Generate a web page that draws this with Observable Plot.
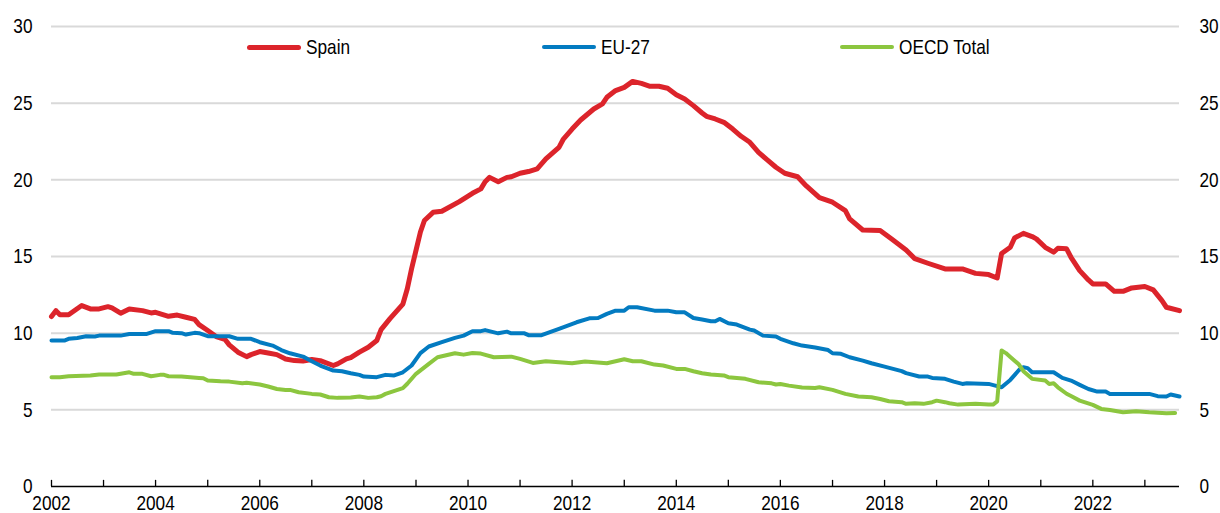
<!DOCTYPE html>
<html><head><meta charset="utf-8">
<script src="https://cdn.jsdelivr.net/npm/d3@7"></script>
<script src="https://cdn.jsdelivr.net/npm/@observablehq/plot@0.6"></script>
<style>
body{margin:0;background:#fff;}
#wrap{position:relative;width:1220px;height:513px;font-family:"Liberation Sans Narrow","Arial Narrow","Liberation Sans",Arial,sans-serif;}
.leg{position:absolute;top:36px;height:22px;line-height:22px;display:flex;align-items:center;font-size:21px;color:#000;white-space:nowrap;}
.sw{display:inline-block;width:54px;border-radius:3px;margin-right:5px;}
.lt{display:inline-block;transform:scaleX(0.82);transform-origin:0 50%;}
</style></head>
<body><div id="wrap"></div>
<script>
const seriesNames = ["Spain", "EU-27", "OECD Total"];
const seriesColors = ["#DC242B", "#037BC1", "#8CC63F"];

const spainDates = ["2002-01","2002-02","2002-03","2002-05","2002-08","2002-10","2002-12","2003-02","2003-03","2003-05","2003-07","2003-10","2003-12","2004-01","2004-04","2004-06","2004-08","2004-10","2004-11","2005-01","2005-03","2005-05","2005-06","2005-08","2005-10","2005-11","2006-01","2006-03","2006-05","2006-07","2006-09","2006-11","2007-01","2007-03","2007-06","2007-07","2007-09","2007-10","2007-12","2008-02","2008-04","2008-05","2008-07","2008-10","2008-11","2008-12","2009-01","2009-02","2009-03","2009-05","2009-07","2009-11","2010-02","2010-04","2010-05","2010-06","2010-08","2010-10","2010-11","2011-01","2011-03","2011-05","2011-07","2011-10","2011-11","2012-01","2012-03","2012-06","2012-08","2012-09","2012-11","2013-01","2013-03","2013-05","2013-07","2013-09","2013-11","2014-01","2014-03","2014-05","2014-07","2014-08","2014-10","2014-12","2015-02","2015-04","2015-06","2015-08","2015-10","2015-12","2016-02","2016-05","2016-07","2016-10","2017-01","2017-04","2017-05","2017-08","2017-12","2018-03","2018-06","2018-08","2018-11","2019-03","2019-07","2019-10","2020-01","2020-03","2020-04","2020-06","2020-07","2020-09","2020-11","2020-12","2021-02","2021-04","2021-05","2021-07","2021-08","2021-10","2021-12","2022-01","2022-04","2022-06","2022-08","2022-10","2023-01","2023-03","2023-05","2023-06","2023-09"];
const spainValues = [11.08,11.47,11.2,11.2,11.8,11.58,11.58,11.73,11.65,11.3,11.58,11.47,11.32,11.36,11.1,11.18,11.04,10.9,10.56,10.17,9.78,9.6,9.24,8.76,8.47,8.6,8.8,8.71,8.6,8.32,8.21,8.19,8.28,8.21,7.89,8.0,8.32,8.4,8.76,9.08,9.52,10.23,10.93,11.9,12.9,14.2,15.4,16.6,17.35,17.88,17.95,18.58,19.12,19.41,19.88,20.16,19.88,20.16,20.2,20.43,20.54,20.71,21.36,22.12,22.66,23.31,23.9,24.62,24.95,25.38,25.82,26.03,26.42,26.29,26.1,26.1,25.97,25.55,25.27,24.84,24.36,24.14,23.97,23.75,23.31,22.84,22.45,21.79,21.3,20.82,20.43,20.2,19.6,18.84,18.54,17.99,17.45,16.73,16.69,16.08,15.43,14.86,14.56,14.19,14.19,13.9,13.82,13.6,15.2,15.6,16.21,16.51,16.3,16.15,15.6,15.28,15.54,15.5,14.95,14.08,13.47,13.21,13.21,12.73,12.73,12.95,13.04,12.82,12.12,11.69,11.47];

const euDates = ["2002-01","2002-04","2002-05","2002-07","2002-09","2002-11","2002-12","2003-05","2003-07","2003-11","2004-01","2004-04","2004-05","2004-07","2004-08","2004-10","2004-11","2005-01","2005-06","2005-08","2005-11","2006-01","2006-04","2006-06","2006-08","2006-11","2007-01","2007-03","2007-06","2007-08","2007-10","2007-12","2008-01","2008-04","2008-06","2008-08","2008-10","2008-12","2009-02","2009-04","2009-07","2009-10","2009-12","2010-02","2010-04","2010-05","2010-08","2010-10","2010-11","2011-02","2011-03","2011-06","2011-10","2012-02","2012-05","2012-07","2012-09","2012-11","2013-01","2013-02","2013-04","2013-08","2013-11","2014-01","2014-03","2014-05","2014-07","2014-09","2014-10","2014-11","2015-01","2015-03","2015-06","2015-07","2015-09","2015-12","2016-01","2016-04","2016-06","2016-09","2016-12","2017-01","2017-03","2017-05","2017-08","2017-10","2018-01","2018-05","2018-06","2018-09","2018-11","2018-12","2019-03","2019-05","2019-07","2019-08","2020-01","2020-03","2020-04","2020-06","2020-08","2020-09","2020-10","2020-11","2021-04","2021-06","2021-08","2021-10","2021-12","2022-02","2022-04","2022-05","2023-02","2023-04","2023-06","2023-07","2023-09"];
const euValues = [9.52,9.52,9.63,9.69,9.8,9.78,9.84,9.84,9.95,9.95,10.13,10.13,10.02,10.0,9.91,10.02,10.0,9.8,9.8,9.63,9.63,9.41,9.19,8.9,8.69,8.47,8.17,7.89,7.56,7.52,7.39,7.28,7.17,7.13,7.28,7.24,7.45,7.89,8.7,9.13,9.41,9.69,9.84,10.13,10.13,10.2,9.99,10.1,9.99,9.99,9.87,9.87,10.28,10.71,10.97,10.99,11.26,11.47,11.47,11.69,11.69,11.47,11.47,11.36,11.36,10.99,10.89,10.78,10.78,10.93,10.65,10.56,10.23,10.17,9.84,9.78,9.63,9.34,9.19,9.06,8.9,8.69,8.65,8.43,8.21,8.04,7.82,7.52,7.39,7.17,7.17,7.08,7.02,6.84,6.69,6.73,6.69,6.55,6.47,6.95,7.6,7.78,7.72,7.45,7.45,7.08,6.91,6.63,6.36,6.19,6.19,6.04,6.04,5.89,5.87,6.0,5.87];

const oecdDates = ["2002-01","2002-03","2002-05","2002-10","2002-12","2003-04","2003-07","2003-08","2003-10","2003-12","2004-02","2004-03","2004-04","2004-07","2004-11","2004-12","2005-01","2005-04","2005-06","2005-09","2005-10","2006-01","2006-03","2006-05","2006-07","2006-08","2006-10","2007-01","2007-03","2007-05","2007-07","2007-10","2007-12","2008-02","2008-04","2008-05","2008-06","2008-10","2008-11","2009-01","2009-04","2009-06","2009-10","2009-12","2010-02","2010-04","2010-07","2010-11","2011-01","2011-04","2011-07","2011-10","2012-01","2012-04","2012-09","2013-01","2013-03","2013-05","2013-08","2013-10","2014-01","2014-03","2014-05","2014-07","2014-09","2014-12","2015-01","2015-05","2015-08","2015-11","2015-12","2016-01","2016-03","2016-06","2016-09","2016-10","2017-01","2017-04","2017-07","2017-10","2017-12","2018-02","2018-05","2018-06","2018-08","2018-10","2018-12","2019-01","2019-03","2019-04","2019-06","2019-10","2020-01","2020-02","2020-03","2020-04","2020-05","2020-06","2020-07","2020-08","2020-09","2020-11","2021-02","2021-03","2021-04","2021-05","2021-07","2021-08","2021-10","2022-01","2022-03","2022-05","2022-08","2022-11","2023-02","2023-06","2023-08"];
const oecdValues = [7.13,7.13,7.19,7.24,7.3,7.3,7.45,7.35,7.35,7.19,7.28,7.28,7.19,7.17,7.08,7.06,6.91,6.86,6.84,6.73,6.76,6.65,6.52,6.36,6.3,6.3,6.15,6.04,6.0,5.82,5.78,5.8,5.87,5.78,5.82,5.89,6.04,6.41,6.7,7.35,8.0,8.43,8.69,8.6,8.71,8.67,8.43,8.47,8.32,8.06,8.17,8.1,8.04,8.15,8.04,8.3,8.17,8.17,7.95,7.89,7.67,7.67,7.52,7.39,7.3,7.24,7.13,7.02,6.8,6.73,6.65,6.69,6.58,6.45,6.43,6.47,6.3,6.04,5.87,5.82,5.71,5.56,5.5,5.39,5.43,5.39,5.5,5.6,5.5,5.43,5.34,5.39,5.34,5.34,5.55,8.87,8.7,8.45,8.2,7.95,7.52,7.02,6.91,6.69,6.73,6.47,6.05,5.9,5.6,5.32,5.06,4.99,4.84,4.91,4.84,4.78,4.8];

const yTicks = [0, 5, 10, 15, 20, 25, 30];
const tickYears = d3.range(2002, 2024);
const labelYears = d3.range(2002, 2023, 2);
const xStart = "2002-01", xEnd = "2023-09";

const parse = d3.utcParse("%Y-%m");
const yearDate = y => new Date(Date.UTC(y, 0, 1));
function rowsOf(name, dates, vals) { return dates.map((d, i) => ({series: name, date: parse(d), value: vals[i]})); }
const spain = rowsOf(seriesNames[0], spainDates, spainValues);
const eu = rowsOf(seriesNames[1], euDates, euValues);
const oecd = rowsOf(seriesNames[2], oecdDates, oecdValues);

const font = '"Liberation Sans Narrow","Arial Narrow","Liberation Sans",Arial,sans-serif';
const chart = Plot.plot({
  width: 1220, height: 513,
  marginLeft: 51, marginRight: 41, marginTop: 26, marginBottom: 27,
  style: {fontFamily: font, fontSize: "21px", color: "#000", background: "#fff", overflow: "visible"},
  x: {type: "utc", domain: [parse(xStart), parse(xEnd)]},
  y: {domain: [0, 30]},
  marks: [
    Plot.gridY(yTicks.filter(v => v > 0), {stroke: "#d9d9d9", strokeOpacity: 1, strokeWidth: 2}),
    Plot.axisY(yTicks, {anchor: "left", tickSize: 0, tickPadding: 19, label: null, fontSize: 21}),
    Plot.axisY(yTicks, {anchor: "right", tickSize: 0, tickPadding: 20, label: null, fontSize: 21}),
    Plot.axisX(labelYears.map(yearDate), {anchor: "bottom", tickSize: 0, tickPadding: 9, tickFormat: d3.utcFormat("%Y"), label: null, fontSize: 21}),
    Plot.ruleX(tickYears.map(yearDate), {y1: 0, y2: 0.4, stroke: "#000", strokeWidth: 1.3}),
    Plot.ruleY([0], {stroke: "#000", strokeWidth: 1.5}),
    Plot.lineY(spain, {x: "date", y: "value", stroke: seriesColors[0], strokeWidth: 5, strokeLinejoin: "round", strokeLinecap: "round"}),
    Plot.lineY(eu, {x: "date", y: "value", stroke: seriesColors[1], strokeWidth: 4, strokeLinejoin: "round", strokeLinecap: "round"}),
    Plot.lineY(oecd, {x: "date", y: "value", stroke: seriesColors[2], strokeWidth: 4, strokeLinejoin: "round", strokeLinecap: "round"})
  ]
});
// condense text horizontally (narrow typeface look) around each label's anchor point
chart.querySelectorAll("text").forEach(t => {
  const x = +(t.getAttribute("x") || 0);
  const tr = t.getAttribute("transform") || "";
  t.setAttribute("transform", `${tr} translate(${x},0) scale(0.82,1) translate(${-x},0)`);
});
const wrap = document.getElementById("wrap");
wrap.appendChild(chart);

const legendLeft = [247, 542, 840];
const legendWidth = [5, 4, 4];
seriesNames.forEach((name, i) => {
  const item = document.createElement("div");
  item.className = "leg";
  item.style.left = legendLeft[i] + "px";
  const sw = document.createElement("span");
  sw.className = "sw";
  sw.style.background = seriesColors[i];
  sw.style.height = legendWidth[i] + "px";
  item.appendChild(sw);
  const t = document.createElement("span");
  t.className = "lt";
  t.textContent = name;
  item.appendChild(t);
  wrap.appendChild(item);
});
</script>
</body></html>
